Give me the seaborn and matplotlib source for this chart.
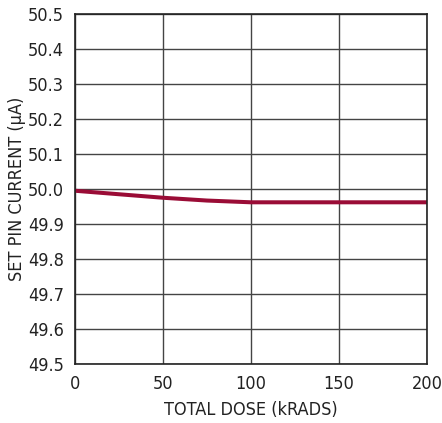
import matplotlib
matplotlib.use("Agg")
import matplotlib.pyplot as plt
import seaborn as sns
import pandas as pd

dose = [0, 25, 50, 75, 100, 125, 150, 175, 200]
current = [49.995, 49.985, 49.975, 49.967, 49.962, 49.962, 49.962, 49.962, 49.962]
xticks = [0, 50, 100, 150, 200]
yticks = [49.5, 49.6, 49.7, 49.8, 49.9, 50.0, 50.1, 50.2, 50.3, 50.4, 50.5]

sns.set_style("white")
plt.rcParams['font.family'] = ['DejaVu Sans']
plt.rcParams['font.stretch'] = 'condensed'

df = pd.DataFrame({"dose": dose, "current": current})

fig = plt.figure(figsize=(4.42, 4.23), dpi=100)
ax = fig.add_axes([75/442, 1-364/423, (427-75)/442, (364-14)/423])
sns.lineplot(data=df, x="dose", y="current", ax=ax, color="#9a0c36", linewidth=2.9)
ax.set_xlim(0, 200)
ax.set_ylim(49.5, 50.5)
ax.set_xticks(xticks)
ax.set_yticks(yticks)
ax.set_xticklabels([str(t) for t in xticks])
ax.set_yticklabels([f"{t:.1f}" for t in yticks])
ax.grid(True, color="#444444", linewidth=1)
for s in ax.spines.values():
    s.set_color("#222222")
    s.set_linewidth(1.2)
ax.tick_params(axis='both', length=0, labelsize=13, colors="#222222", pad=8)
ax.set_xlabel("TOTAL DOSE (kRADS)", fontsize=13, color="#222222", labelpad=6)
ax.set_ylabel("SET PIN CURRENT (µA)", fontsize=13, color="#222222", labelpad=1)
fig.savefig("out.png", dpi=100)
